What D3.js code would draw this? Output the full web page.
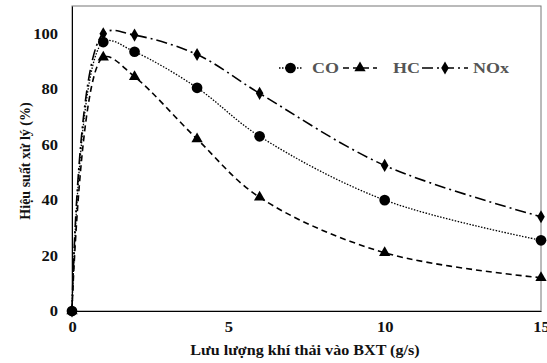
<!DOCTYPE html>
<html>
<head>
<meta charset="utf-8">
<script src="https://cdn.jsdelivr.net/npm/d3@7"></script>
<style>
  body { margin: 0; background: #fff; }
  text { font-family: "Liberation Serif", "Times New Roman", serif; font-weight: bold; }
</style>
</head>
<body>
<div id="chart"></div>
<script>
// flow rate (g/s)
const flow = [0, 1, 2, 4, 6, 10, 15];
const coValues = [0, 97, 93.5, 80.5, 63, 40, 25.5];
const hcValues = [0, 91.5, 84.5, 62, 41, 21, 12];
const noxValues = [0, 100, 99.5, 92.5, 78.5, 52.5, 34];
const xTicks = [0, 5, 10, 15];
const yTicks = [0, 20, 40, 60, 80, 100];

const W = 547, H = 363;
const margin = { top: 6, right: 6, bottom: 52, left: 72 };
const width = W - margin.left - margin.right;
const height = H - margin.top - margin.bottom;

// the original text looks horizontally stretched
function stretch(sel, k) {
    sel.each(function() {
        const len = this.getComputedTextLength();
        d3.select(this)
            .attr('textLength', len * k)
            .attr('lengthAdjust', 'spacingAndGlyphs');
    });
}

const svg = d3.select('#chart').append('svg')
    .attr('width', W)
    .attr('height', H);

const g = svg.append('g')
    .attr('transform', `translate(${margin.left},${margin.top})`);

const x = d3.scaleLinear().domain([0, 15]).range([0, width]);
const y = d3.scaleLinear().domain([0, 110]).range([height, 0]);

// frame
g.append('rect')
    .attr('width', width)
    .attr('height', height)
    .attr('fill', 'none')
    .attr('stroke', '#777')
    .attr('stroke-width', 1);

const xAxis = g.append('g')
    .attr('transform', `translate(0,${height})`)
    .call(d3.axisBottom(x).tickValues(xTicks).tickSize(0).tickPadding(11));
xAxis.select('.domain').attr('stroke', '#000');
xAxis.selectAll('text').attr('font-size', 14).attr('fill', '#111').call(stretch, 1.18);

const yAxis = g.append('g')
    .call(d3.axisLeft(y).tickValues(yTicks).tickSize(0).tickPadding(14));
yAxis.select('.domain').attr('stroke', '#000');
yAxis.selectAll('text').attr('font-size', 14).attr('fill', '#111').call(stretch, 1.18);

svg.append('text')
    .attr('x', 305)
    .attr('y', 355)
    .attr('text-anchor', 'middle')
    .attr('font-size', 14)
    .attr('fill', '#111')
    .text('Lưu lượng khí thải vào BXT (g/s)')
    .call(stretch, 1.15);

svg.append('text')
    .attr('transform', 'translate(30,161) rotate(-90)')
    .attr('text-anchor', 'middle')
    .attr('font-size', 14)
    .attr('fill', '#111')
    .text('Hiệu suất xử lý (%)');

const series = [
    { name: 'CO', values: coValues, dash: '1.5,1.5', width: 1.3, symbol: d3.symbolCircle, size: 90 },
    { name: 'HC', values: hcValues, dash: '6,4', width: 1.6, symbol: d3.symbolTriangle, size: 55 },
    { name: 'NOx', values: noxValues, dash: '11,4,2,4', width: 1.6, symbol: d3.symbolDiamond, size: 50 }
];

const line = d3.line()
    .x(d => x(d[0]))
    .y(d => y(d[1]))
    .curve(d3.curveCatmullRom.alpha(0.5));

series.forEach(s => {
    const pts = flow.map((f, i) => [f, s.values[i]]);
    g.append('path')
        .attr('d', line(pts))
        .attr('fill', 'none')
        .attr('stroke', '#000')
        .attr('stroke-width', s.width)
        .attr('stroke-dasharray', s.dash);
    g.selectAll(null)
        .data(pts)
        .enter().append('path')
        .attr('transform', d => `translate(${x(d[0])},${y(d[1])})`)
        .attr('d', d3.symbol().type(s.symbol).size(s.size))
        .attr('fill', '#000');
});

// legend
const legendItems = [
    { s: series[0], x0: 279, x1: 302, tx: 312 },
    { s: series[1], x0: 343, x1: 377, tx: 393 },
    { s: series[2], x0: 422, x1: 468, tx: 473 }
];
const ly = 68;
legendItems.forEach(it => {
    svg.append('line')
        .attr('x1', it.x0).attr('x2', it.x1)
        .attr('y1', ly).attr('y2', ly)
        .attr('stroke', '#000')
        .attr('stroke-width', it.s.width)
        .attr('stroke-dasharray', it.s.dash);
    svg.append('path')
        .attr('transform', `translate(${(it.x0 + it.x1) / 2},${ly})`)
        .attr('d', d3.symbol().type(it.s.symbol).size(it.s.size))
        .attr('fill', '#000');
    svg.append('text')
        .attr('x', it.tx)
        .attr('y', ly + 5)
        .attr('font-size', 15)
        .attr('fill', '#555')
        .text(it.s.name)
        .call(stretch, 1.2);
});
</script>
</body>
</html>
